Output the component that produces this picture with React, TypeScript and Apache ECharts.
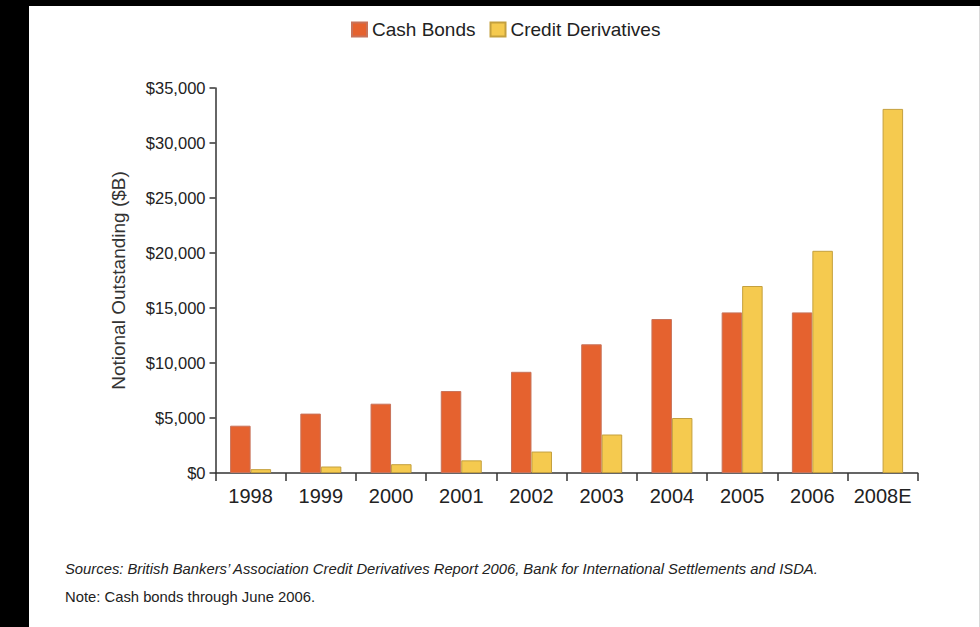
import React, { useEffect, useRef } from "react";
import * as echarts from "echarts";

const categories = ["1998", "1999", "2000", "2001", "2002", "2003", "2004", "2005", "2006", "2008E"];
const cashBonds: (number | null)[] = [4300, 5400, 6300, 7450, 9200, 11700, 14000, 14600, 14600, null];
const creditDerivatives: number[] = [350, 590, 800, 1150, 1950, 3500, 5000, 17000, 20200, 33100];
const yTicks = { min: 0, max: 35000, interval: 5000 };
const seriesNames = ["Cash Bonds", "Credit Derivatives"];
const yAxisTitle = "Notional Outstanding ($B)";
const sourcesText =
  "Sources: British Bankers\u2019 Association Credit Derivatives Report 2006, Bank for International Settlements and ISDA.";
const noteText = "Note: Cash bonds through June 2006.";

const ARIAL = "'Liberation Sans', Arial, Helvetica, sans-serif";

export default function App() {
  const ref = useRef<HTMLDivElement>(null);

  useEffect(() => {
    if (!ref.current) return;
    const chart = echarts.init(ref.current, undefined, { renderer: "svg" });
    chart.setOption({
      animation: false,
      backgroundColor: "#ffffff",
      legend: {
        left: 322,
        top: 14,
        padding: 0,
        icon: "rect",
        itemWidth: 15,
        itemHeight: 14,
        itemGap: 14,
        textStyle: { fontFamily: ARIAL, fontSize: 19, color: "#222", lineHeight: 19 },
        data: seriesNames,
      },
      grid: { left: 186.5, right: 62.3, top: 82, bottom: 154, containLabel: false },
      xAxis: {
        type: "category",
        data: categories,
        boundaryGap: true,
        axisLine: { show: true, lineStyle: { color: "#333", width: 1.5 } },
        axisTick: { show: true, interval: 0, alignWithLabel: false, length: 8, lineStyle: { color: "#333", width: 1.5 } },
        axisLabel: { interval: 0, margin: 13, fontFamily: ARIAL, fontSize: 20, color: "#222" },
        splitLine: { show: false },
      },
      yAxis: {
        type: "value",
        min: yTicks.min,
        max: yTicks.max,
        interval: yTicks.interval,
        name: yAxisTitle,
        nameLocation: "middle",
        nameRotate: 90,
        nameGap: 88,
        nameTextStyle: { fontFamily: ARIAL, fontSize: 19, color: "#333" },
        axisLine: { show: true, lineStyle: { color: "#333", width: 1.5 } },
        axisTick: { show: true, length: 6, lineStyle: { color: "#333", width: 1.5 } },
        axisLabel: {
          margin: 10,
          fontFamily: ARIAL,
          fontSize: 16.5,
          color: "#222",
          formatter: (v: number) => "$" + v.toLocaleString("en-US"),
        },
        splitLine: { show: false },
      },
      series: [
        {
          name: seriesNames[0],
          type: "bar",
          data: cashBonds,
          barWidth: "29.2%",
          barGap: "0%",
          itemStyle: { color: "#E5622F", borderColor: "#C8735A", borderWidth: 1 },
        },
        {
          name: seriesNames[1],
          type: "bar",
          data: creditDerivatives,
          barWidth: "29.2%",
          barGap: "0%",
          itemStyle: { color: "#F5CA4F", borderColor: "#C4A03E", borderWidth: 1 },
        },
      ],
      graphic: [
        {
          type: "line",
          shape: { x1: 950.5, y1: 0, x2: 950.5, y2: 621 },
          style: { stroke: "#d8d8d8", lineWidth: 1 },
        },
        {
          type: "text",
          x: 36,
          y: 563,
          style: {
            text: sourcesText,
            font: `italic 14.8px ${ARIAL}`,
            fill: "#222",
            verticalAlign: "middle",
          },
        },
        {
          type: "text",
          x: 36,
          y: 591,
          style: {
            text: noteText,
            font: `14.8px ${ARIAL}`,
            fill: "#222",
            verticalAlign: "middle",
          },
        },
      ],
    });
    return () => chart.dispose();
  }, []);

  return (
    <div style={{ position: "fixed", left: 0, top: 0, width: 980, height: 627, background: "#000" }}>
      <div ref={ref} style={{ position: "absolute", left: 29, top: 6, width: 951, height: 621 }} />
    </div>
  );
}
